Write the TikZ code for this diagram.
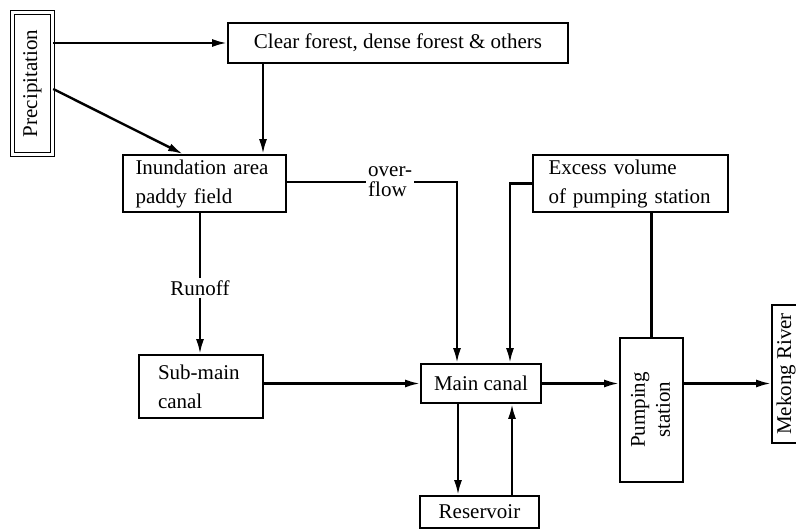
\documentclass[tikz,border=0pt]{standalone}
\usepackage{fontspec}
\setmainfont{Liberation Serif}
\usepackage{graphicx}
\usetikzlibrary{arrows.meta,positioning}

\tikzset{
  flowbox/.style={draw,line width=1.8pt,inner sep=0pt,
    font=\fontsize{21}{29}\selectfont},
  leftbox/.style={flowbox,align=left},
  flowlabel/.style={inner sep=2pt,font=\fontsize{21}{20}\selectfont},
  flow/.style={line width=2.4pt,-{Latex[length=15pt,width=8pt]}},
  link/.style={line width=2.4pt},
}

\begin{document}
\begin{tikzpicture}[x=1pt,y=-1pt]
  \useasboundingbox (0,0) rectangle (796,529);

  % boxes
  \node[flowbox,double,double distance=2.2pt,line width=1.5pt,
    minimum width=40pt,minimum height=142pt] (precip) at (32.5,83.5)
    {\rotatebox{90}{Precipitation}};
  \node[flowbox,minimum width=340pt,minimum height=40pt] (forest) at (398,43)
    {Clear forest, dense forest \& others};
  \node[leftbox,minimum width=163pt,minimum height=57pt,text width=138pt] (inund) at (204.5,183.5)
    {Inundation area\\paddy field};
  \node[leftbox,minimum width=195pt,minimum height=57pt,text width=164pt] (excess) at (630.5,183.5)
    {Excess volume\\of pumping station};
  \node[leftbox,minimum width=124pt,minimum height=63pt,text width=86pt] (submain) at (201,386.5)
    {Sub-main\\canal};
  \node[flowbox,minimum width=120pt,minimum height=39pt] (main) at (481,383.5)
    {Main canal};
  \node[flowbox,minimum width=119pt,minimum height=32pt] (reservoir) at (479.5,512)
    {Reservoir};
  \node[flowbox,minimum width=63pt,minimum height=144pt] (pump) at (651.5,410)
    {\rotatebox{90}{\begin{tabular}{@{}c@{}}Pumping\\[-4pt]station\end{tabular}}};
  \node[flowbox,minimum width=28pt,minimum height=138pt] (mekong) at (786,374)
    {\rotatebox{90}{Mekong River}};

  % labels on the lines
  \node[flowlabel] (runoff) at (200,288) {Runoff};
  \node[flowlabel,anchor=west,align=left] (over) at (366,182)
    {over-\\flow};

  % connectors
  \draw[flow] (precip.east |- forest.west) -- (forest.west);
  \draw[flow] ([yshift=-5.5pt]precip.east) -- ([xshift=-21.5pt]inund.north);
  \draw[flow] ([xshift=58.5pt]inund.north |- forest.south) -- ([xshift=58.5pt]inund.north);
  \draw[link] (inund.east |- over.west) -- (over.west);
  \draw[flow] (over.east) -| ([xshift=-24pt]main.north);
  \draw[flow] (excess.west) -| ([xshift=29pt]main.north);
  \draw[link] (inund.south -| runoff.north) -- (runoff.north);
  \draw[flow] (runoff.south) -- (runoff.south |- submain.north);
  \draw[flow] (submain.east |- main.west) -- (main.west);
  \draw[flow] ([xshift=-23pt]main.south) -- ([xshift=-23pt]main.south |- reservoir.north);
  \draw[flow] ([xshift=31pt]main.south |- reservoir.north) -- ([xshift=31pt]main.south);
  \draw[flow] (main.east) -- (main.east -| pump.west);
  \draw[link] (pump.north |- excess.south) -- (pump.north);
  \draw[flow] (pump.east |- main.east) -- (mekong.west |- main.east);
\end{tikzpicture}
\end{document}
